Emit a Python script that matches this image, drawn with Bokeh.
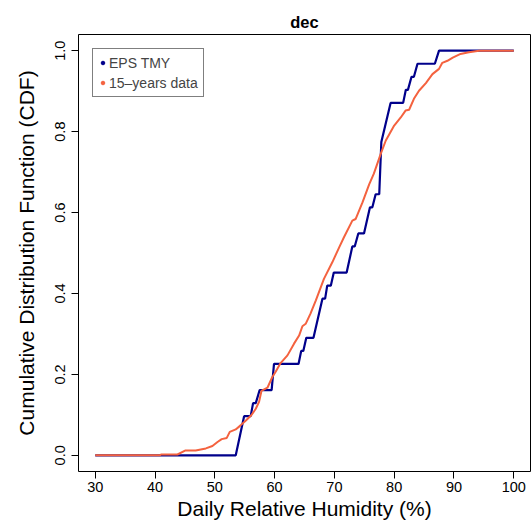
from bokeh.plotting import figure
from bokeh.models import (Range1d, FixedTicker, Legend, LegendItem, ColumnDataSource,
                          CustomJSTickFormatter, Title)
from bokeh.embed import file_html
from bokeh.resources import INLINE

tmy_x = [30, 53.5, 54.9, 56.0, 56.4, 56.85, 57.5, 59.5, 59.9, 64.0, 64.45, 64.8, 65.3, 66.5,
         68.0, 68.45, 68.8, 69.4, 69.9, 72.05, 73.0, 73.4, 74.0, 74.95, 75.95, 76.35, 76.9,
         77.5, 77.85, 79.4, 81.5, 81.95, 82.3, 82.9, 83.3, 83.9, 86.8, 87.5, 100]
tmy_n = [0, 0, 3, 3, 4, 4, 5, 5, 7, 7, 8, 8, 9, 9,
         12, 12, 13, 13, 14, 14, 16, 16, 17, 17, 19, 19, 20,
         20, 24, 27, 27, 28, 28, 29, 29, 30, 30, 31, 31]
tmy_days = 31

# 15-years data CDF
hist_x = [30, 40.8, 41.0, 43.75, 45.1, 46.8, 48.5, 49.6, 50.45, 51.15, 52.0, 52.5, 53.5,
          54.3, 55.2, 56.1, 56.85, 57.4, 57.8, 58.8, 59.6, 60.2, 61.0, 62.15, 63.25, 64.1,
          64.65, 65.2, 66.0, 66.9, 68.25, 69.65, 70.8, 71.6, 73.0, 73.55, 74.7, 75.8, 76.6,
          77.75, 78.6, 80.0, 81.1, 81.9, 82.5, 83.3, 84.15, 85.3, 86.4, 87.5, 88.05, 88.9,
          89.8, 91.1, 92.5, 94.2, 100]
hist_y = [0, 0, 0.002, 0.002, 0.012, 0.012, 0.017, 0.023, 0.033, 0.040, 0.043, 0.058, 0.064,
          0.074, 0.086, 0.099, 0.115, 0.132, 0.159, 0.167, 0.193, 0.207, 0.228, 0.247, 0.276, 0.296,
          0.319, 0.325, 0.350, 0.383, 0.436, 0.477, 0.514, 0.539, 0.580, 0.584, 0.625, 0.669, 0.696,
          0.745, 0.778, 0.815, 0.835, 0.852, 0.854, 0.881, 0.901, 0.920, 0.942, 0.955, 0.970, 0.975,
          0.983, 0.992, 0.996, 1.0, 1.0]

x_ticks = [30, 40, 50, 60, 70, 80, 90, 100]
y_ticks = [0.0, 0.2, 0.4, 0.6, 0.8, 1.0]
series_names = ["EPS TMY", "15\u2013years data"]
colors = ["#00008B", "#F4623F"]

FONT = "Liberation Sans"

p = figure(width=531, height=527, output_backend="svg", toolbar_location=None,
           x_range=Range1d(27.2, 102.8), y_range=Range1d(-0.04, 1.04),
           min_border_left=78, min_border_right=1, min_border_top=34, min_border_bottom=56)
p.title = Title(text="dec", align="center", text_font=FONT, text_font_size="16.5px",
                text_font_style="bold", text_color="black", offset=0, standoff=7)
p.background_fill_color = "white"
p.border_fill_color = "white"
p.outline_line_color = "black"
p.outline_line_width = 1
p.xgrid.visible = False
p.ygrid.visible = False

tmy_y = [n / tmy_days for n in tmy_n]
p.line(tmy_x, tmy_y, line_color=colors[0], line_width=2.2)
p.line(hist_x, hist_y, line_color=colors[1], line_width=2)

# legend-only marker renderers (NaN data, nothing drawn in the plot)
nan_src = ColumnDataSource(dict(x=[float("nan")], y=[float("nan")]))
r1 = p.scatter("x", "y", source=nan_src, size=7, color=colors[0])
r2 = p.scatter("x", "y", source=nan_src, size=7, color=colors[1])
legend = Legend(items=[LegendItem(label=series_names[0], renderers=[r1]),
                       LegendItem(label=series_names[1], renderers=[r2])],
                location=(14, 374), margin=0, padding=5, spacing=3,
                label_text_font=FONT, label_text_font_size="14px",
                label_height=17, glyph_height=17, glyph_width=9, label_standoff=2,
                border_line_color="black", border_line_width=1,
                background_fill_alpha=1)
p.add_layout(legend)

for ax in (p.xaxis[0], p.yaxis[0]):
    ax.axis_line_color = None
    ax.major_tick_in = 0
    ax.major_tick_out = 7
    ax.major_tick_line_color = "black"
    ax.minor_tick_line_color = None
    ax.major_label_text_font = FONT
    ax.major_label_text_font_size = "14.5px"
    ax.major_label_text_color = "black"
    ax.axis_label_text_font = FONT
    ax.axis_label_text_font_style = "normal"
    ax.axis_label_text_font_size = "21px"
    ax.axis_label_text_color = "black"

p.xaxis[0].ticker = FixedTicker(ticks=x_ticks)
p.yaxis[0].ticker = FixedTicker(ticks=y_ticks)
p.yaxis[0].formatter = CustomJSTickFormatter(code="return tick.toFixed(1);")
p.yaxis[0].major_label_orientation = "vertical"
p.xaxis[0].axis_label = "Daily Relative Humidity (%)"
p.yaxis[0].axis_label = "Cumulative Distribution Function (CDF)"
p.xaxis[0].major_label_standoff = 3
p.xaxis[0].axis_label_standoff = 2
p.yaxis[0].major_label_standoff = 6
p.yaxis[0].axis_label_standoff = 15

open("out.html", "w").write(file_html(p, INLINE))
